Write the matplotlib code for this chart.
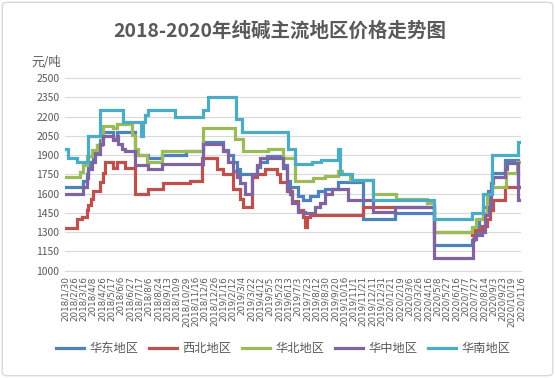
import matplotlib
matplotlib.use("Agg")
import matplotlib.pyplot as plt
from matplotlib.patches import FancyBboxPatch

plt.rcParams['font.family'] = ['Noto Sans CJK SC', 'DejaVu Sans']

# tick labels along the category axis (one every ~14 trading days)
date_labels = [
    "2018/1/30", "2018/2/26", "2018/3/16", "2018/4/8", "2018/4/26", "2018/5/17",
    "2018/6/6", "2018/6/27", "2018/7/17", "2018/8/6", "2018/8/24", "2018/9/13",
    "2018/10/9", "2018/10/29", "2018/11/16", "2018/12/6", "2018/12/26", "2019/1/16",
    "2019/2/12", "2019/3/4", "2019/3/22", "2019/4/12", "2019/5/5", "2019/5/23",
    "2019/6/13", "2019/7/3", "2019/7/23", "2019/8/12", "2019/8/30", "2019/9/20",
    "2019/10/16", "2019/11/1", "2019/11/21", "2019/12/11", "2019/12/31", "2020/1/21",
    "2020/2/19", "2020/3/6", "2020/3/26", "2020/4/16", "2020/5/8", "2020/5/27",
    "2020/6/16", "2020/7/7", "2020/7/27", "2020/8/14", "2020/9/3", "2020/9/23",
    "2020/10/19", "2020/11/6",
]
series_names = ["华东地区", "西北地区", "华北地区", "华中地区", "华南地区"]

# price change points: position (in label periods) and new price, yuan/ton
east_x = [0, 1.97, 2.33, 2.5, 2.69, 3.04, 3.41, 3.76, 4.12, 5.19, 5.56, 7.52, 8.95,
          10.39, 12.97, 14.86, 17.01, 17.55, 18.09, 18.45, 18.81, 20.6, 20.95, 21.67,
          23.46, 23.82, 24.18, 25.04, 25.57, 26.33, 27.19, 27.94, 29.34, 32.05, 35.46,
          39.65, 43.7, 43.95, 44.49, 44.92, 45.46, 45.92, 47.28, 48.71]
east_y = [1650, 1700, 1750, 1800, 1850, 1930, 1980, 2020, 2080, 2030, 2080, 1900, 1880,
          1900, 1930, 2000, 1940, 1900, 1850, 1790, 1750, 1810, 1850, 1890,
          1820, 1700, 1650, 1580, 1550, 1580, 1620, 1640, 1690, 1400, 1450,
          1200, 1240, 1300, 1400, 1500, 1620, 1760, 1860, 1650]

northwest_x = [0, 1.26, 1.79, 2.33, 2.5, 2.79, 3.04, 3.76, 4.12, 4.3, 5.19, 5.56, 6.45,
               7.52, 8.95, 10.56, 13.43, 14.69, 16.3, 17.01, 18.09, 18.81, 19.16, 20.06,
               20.6, 21.49, 22.75, 23.1, 23.82, 24.36, 25.04, 25.57, 25.79, 26.0, 26.33,
               32.05, 39.65, 43.7, 44.06, 44.78, 45.32, 45.67, 46.03, 47.28]
northwest_y = [1330, 1400, 1420, 1470, 1510, 1560, 1620, 1690, 1760, 1850, 1800, 1850, 1800,
               1600, 1640, 1680, 1700, 1880, 1790, 1750, 1640, 1560, 1500, 1730,
               1750, 1790, 1750, 1690, 1620, 1540, 1470, 1420, 1340, 1420, 1430,
               1500, 1300, 1280, 1320, 1350, 1400, 1470, 1550, 1650]

north_x = [0, 1.61, 1.97, 2.33, 2.87, 3.41, 3.94, 4.12, 5.19, 5.56, 7.17, 7.52, 7.88,
           8.78, 10.39, 14.86, 18.27, 19.16, 21.85, 23.46, 24.72, 26.65, 27.94, 29.34,
           29.74, 30.63, 33.13, 35.57, 38.87, 39.65, 43.7, 44.2, 44.9, 45.32, 45.78,
           47.35, 48.6]
north_y = [1730, 1770, 1820, 1890, 1940, 1980, 2060, 2130, 2110, 2140, 2060, 1950, 1900,
           1850, 1930, 2110, 2030, 1930, 1950, 1880, 1700, 1720, 1740, 1780,
           1750, 1710, 1600, 1560, 1530, 1300, 1340, 1400, 1450, 1600, 1650,
           1760, 1850]

central_x = [0, 1.97, 2.33, 2.5, 2.87, 3.22, 3.76, 4.12, 5.19, 5.56, 5.73, 6.09, 6.45,
             7.52, 8.95, 10.39, 14.86, 17.01, 17.55, 18.09, 18.45, 18.81, 19.34, 20.06,
             20.6, 20.95, 23.46, 23.82, 24.18, 24.36, 25.04, 25.79, 26.86, 27.4, 27.94,
             28.66, 30.44, 33.13, 35.46, 39.65, 43.81, 44.17, 44.78, 45.14, 45.5, 45.76,
             46.03, 47.28, 47.49, 48.71]
central_y = [1600, 1650, 1720, 1790, 1850, 1910, 1990, 2050, 2020, 2050, 1990, 1950, 1930,
             1820, 1790, 1830, 1990, 1930, 1850, 1780, 1730, 1680, 1600, 1750,
             1820, 1880, 1800, 1640, 1600, 1530, 1460, 1450, 1500, 1530, 1600,
             1640, 1550, 1460, 1500, 1100, 1250, 1280, 1300, 1430, 1500, 1680,
             1730, 1790, 1840, 1550]

south_x = [0, 0.32, 1.26, 2.5, 3.76, 6.26, 8.17, 8.38, 8.6, 8.92, 11.82, 14.8, 15.33,
           18.34, 18.99, 24.0, 24.72, 26.5, 27.5, 29.34, 29.55, 30.84, 33.13, 39.65,
           43.71, 44.95, 45.89, 48.68]
south_y = [1950, 1880, 1850, 2050, 2250, 2160, 2050, 2160, 2210, 2250, 2200, 2250, 2350,
           2180, 2080, 1950, 1830, 1850, 1860, 1950, 1750, 1710, 1550, 1400,
           1450, 1600, 1900, 2000]

y_ticks = list(range(1000, 2501, 150))
colors = ["#4F81BD", "#C0504D", "#9BBB59", "#8064A2", "#4BACC6"]

fig = plt.figure(figsize=(5.55, 3.78), dpi=100)
ax = fig.add_axes([0.117, 0.284, 0.822, 0.509])

end = len(date_labels) - 1
all_x = [east_x, northwest_x, north_x, central_x, south_x]
all_y = [east_y, northwest_y, north_y, central_y, south_y]
for xs, ys, name, c in zip(all_x, all_y, series_names, colors):
    ax.step(xs + [end], ys + [ys[-1]], where="post", color=c, lw=2.3,
            label=name, solid_joinstyle="miter")

ax.set_xlim(0, end)
ax.set_ylim(1000, 2500)
ax.set_yticks(y_ticks)
ax.set_xticks(range(len(date_labels)))
ax.set_xticklabels(date_labels, rotation=90, fontsize=6.3, color="#595959",
                   family=["DejaVu Sans"])
ax.tick_params(axis="y", labelsize=7.5, labelcolor="#595959", length=0, pad=4)
ax.tick_params(axis="x", length=0, pad=4)
ax.grid(axis="y", color="#d9d9d9", lw=0.8)
ax.set_axisbelow(True)
for s in ["left", "right", "top"]:
    ax.spines[s].set_visible(False)
ax.spines["bottom"].set_color("#d9d9d9")

fig.text(0.505, 0.918, "2018-2020年纯碱主流地区价格走势图", ha="center", va="center",
         fontsize=14, fontweight="bold", color="#595959")
fig.text(0.057, 0.835, "元/吨", ha="left", va="center", fontsize=9, color="#595959")

fig.legend(loc="center", bbox_to_anchor=(0.51, 0.078), ncol=5, frameon=False,
           fontsize=8.8, handlelength=2.3, handletextpad=0.4, columnspacing=0.9,
           labelcolor="#595959")

border = FancyBboxPatch((0.004, 0.006), 0.992, 0.988, boxstyle="round,pad=0,rounding_size=0.01",
                        transform=fig.transFigure, fill=False, edgecolor="#d9d9d9", lw=1)
fig.patches.append(border)

fig.savefig("out.png", dpi=100)
